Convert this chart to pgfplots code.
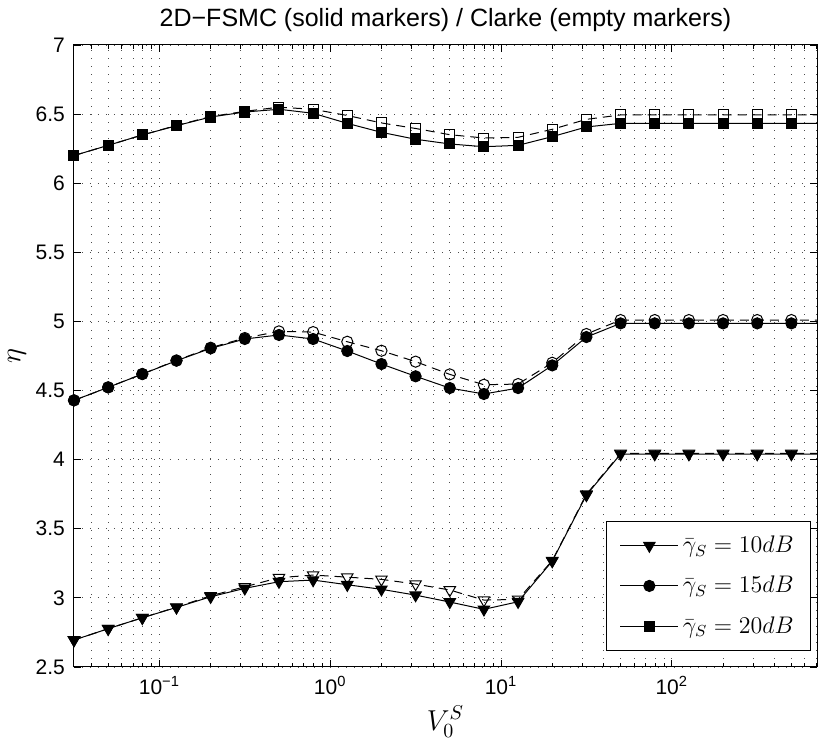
\documentclass[border=0pt]{standalone}
\usepackage{fontspec}
\setmainfont{Liberation Sans}
\usepackage{pgfplots}
\pgfplotsset{compat=1.18}
\usepackage{pgfplotstable}

\pgfplotstableread{
x        ts     te     cs     ce     ss     se
0.0316228 2.695 2.695 4.429 4.429 6.200 6.200
0.0501187 2.777 2.777 4.523 4.523 6.274 6.274
0.0794328 2.856 2.856 4.619 4.620 6.349 6.349
0.125893  2.931 2.933 4.716 4.718 6.416 6.418
0.199526  3.008 3.015 4.805 4.810 6.479 6.482
0.316228  3.069 3.080 4.873 4.880 6.515 6.520
0.501187  3.117 3.146 4.902 4.928 6.535 6.550
0.794328  3.129 3.165 4.873 4.923 6.506 6.535
1.25893   3.095 3.150 4.786 4.853 6.433 6.490
1.99526   3.062 3.134 4.692 4.788 6.368 6.436
3.16228   3.020 3.100 4.603 4.709 6.318 6.396
5.01187   2.970 3.057 4.518 4.617 6.284 6.351
7.94328   2.917 2.984 4.475 4.542 6.264 6.327
12.5893   2.972 2.989 4.518 4.547 6.274 6.332
19.9526   3.266 3.270 4.682 4.701 6.337 6.390
31.6228   3.744 3.750 4.887 4.909 6.407 6.462
50.1187   4.040 4.045 4.986 5.010 6.433 6.494
79.4328   4.040 4.045 4.986 5.010 6.433 6.494
125.893   4.040 4.045 4.986 5.010 6.433 6.494
199.526   4.040 4.045 4.986 5.010 6.433 6.494
316.228   4.040 4.045 4.986 5.010 6.433 6.494
501.187   4.040 4.045 4.986 5.010 6.433 6.494
794.328   4.040 4.045 4.986 5.010 6.433 6.494
}\data

\begin{document}
\begin{tikzpicture}
\begin{axis}[
  xmode=log, log basis x=10,
  scale only axis, width=371.5pt, height=311pt,
  xmin=0.0316228, xmax=707.946,
  ymin=2.5, ymax=7,
  ytick={2.5,3,3.5,4,4.5,5,5.5,6,6.5,7},
  yticklabels={2.5,3,3.5,4,4.5,5,5.5,6,6.5,7},
  xtick={0.1,1,10,100},
  xticklabels={10\textsuperscript{−1},10\textsuperscript{0},10\textsuperscript{1},10\textsuperscript{2}},
  minor xtick={0.04,0.05,0.06,0.07,0.08,0.09,0.2,0.3,0.4,0.5,0.6,0.7,0.8,0.9,2,3,4,5,6,7,8,9,20,30,40,50,60,70,80,90,200,300,400,500,600,700},
  xmajorgrids, xminorgrids, ymajorgrids,
  major grid style={black!70, line width=0.4pt, dash pattern=on 0.5pt off 3.5pt},
  minor grid style={black!70, line width=0.4pt, dash pattern=on 0.5pt off 3.5pt},
  tick align=inside,
  major tick length=3.5pt, minor tick length=2pt,
  every tick/.style={black, line width=0.4pt},
  axis line style={black, line width=0.5pt},
  tick label style={font=\fontsize{10.5}{12}\selectfont},
  xticklabel style={yshift=-1pt},
  yticklabel style={xshift=-1pt},
  title={2D−FSMC (solid markers) / Clarke (empty markers)},
  title style={font=\fontsize{12.5}{14}\selectfont, at={(0.5,1)}, anchor=base, yshift=3pt},
  xlabel={$V_0^S$}, ylabel={$\eta$},
  xlabel style={font=\fontsize{14}{16}\selectfont, yshift=1pt},
  ylabel style={font=\fontsize{14}{16}\selectfont, yshift=-2pt},
  legend style={at={(0.9915,0.0273)}, anchor=south east, draw=black, line width=0.5pt,
    outer sep=0pt, inner xsep=6.5pt, inner ysep=5pt,
    font=\fontsize{11.8}{13}\selectfont, row sep=6.3pt,
    nodes={inner sep=2pt}},
  legend cell align=left,
  legend image code/.code={\draw[#1, mark indices={2}] plot coordinates {(0pt,0pt) (14.5pt,0pt) (29pt,0pt)};},
  every axis plot/.append style={line width=0.5pt, black},
]
% Clarke (empty markers), dashed
\addplot[dash pattern=on 4.5pt off 3pt, mark=triangle, mark size=3.3pt, mark indices={1,...,22}, mark options={solid, rotate=180, fill=white}, forget plot] table[x=x,y=te]{\data};
\addplot[dash pattern=on 4.5pt off 3pt, mark=o, mark size=2.8pt, mark indices={1,...,22}, mark options={solid, fill=white}, forget plot] table[x=x,y=ce]{\data};
\addplot[dash pattern=on 4.5pt off 3pt, mark=square, mark size=2.5pt, mark indices={1,...,22}, mark options={solid, fill=white}, forget plot] table[x=x,y=se]{\data};
% 2D-FSMC (solid markers)
\addplot[solid, mark=triangle*, mark size=3.3pt, mark indices={1,...,22}, mark options={solid, rotate=180, fill=black}] table[x=x,y=ts]{\data};
\addlegendentry{$\bar{\gamma}_S = 10dB$}
\addplot[solid, mark=*, mark size=2.8pt, mark indices={1,...,22}, mark options={solid, fill=black}] table[x=x,y=cs]{\data};
\addlegendentry{$\bar{\gamma}_S = 15dB$}
\addplot[solid, mark=square*, mark size=2.5pt, mark indices={1,...,22}, mark options={solid, fill=black}] table[x=x,y=ss]{\data};
\addlegendentry{$\bar{\gamma}_S = 20dB$}
\end{axis}
\pgfresetboundingbox
\path[use as bounding box] (-37pt,-40pt) rectangle (372pt,333.5pt);
\end{tikzpicture}
\end{document}
